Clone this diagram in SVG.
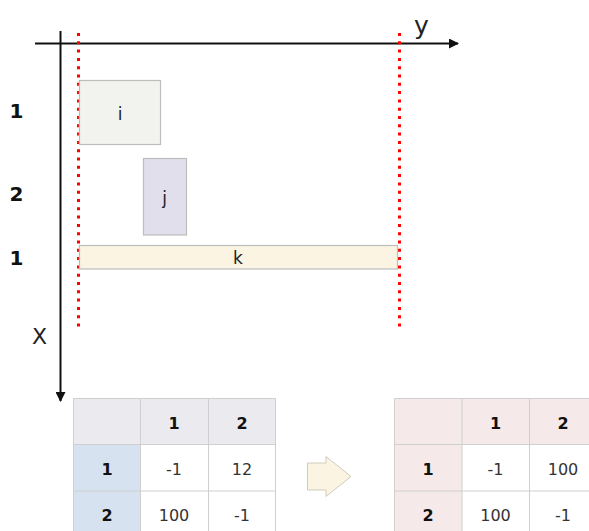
<svg xmlns="http://www.w3.org/2000/svg" width="589" height="531" viewBox="0 0 589 531">
  <style>
    .lbl { font-family: "DejaVu Sans", Verdana, sans-serif; fill: #222; }
    .axis { stroke: #111; stroke-width: 2; fill: none; }
    .guide { stroke: #ff0000; stroke-width: 3; stroke-dasharray: 3 5.3; fill: none; }
    .box { stroke: #bdbdbd; stroke-width: 1.2; }
    .cell { stroke: #cfcfcf; stroke-width: 1; }
    .num { font-family: "DejaVu Sans", Verdana, sans-serif; font-size: 16px; fill: #333; text-anchor: middle; }
    .bold { font-weight: bold; fill: #111; }
  </style>
  <defs>
    <marker id="arrow" viewBox="0 0 10 10" refX="9" refY="5" markerWidth="7" markerHeight="5" markerUnits="strokeWidth" orient="auto">
      <path d="M0,0 L10,5 L0,10 z" fill="#111"/>
    </marker>
  </defs>
  <rect width="589" height="531" fill="#fff"/>

  <!-- axes -->
  <g id="axes">
    <line class="axis" x1="35" y1="43.5" x2="458" y2="43.5" marker-end="url(#arrow)"/>
    <line class="axis" x1="60.5" y1="31" x2="60.5" y2="401" marker-end="url(#arrow)"/>
    <text class="lbl" x="414" y="34" font-size="25">y</text>
    <text class="lbl" x="32" y="344" font-size="22">X</text>
  </g>

  <!-- row labels -->
  <g id="row-labels" class="lbl bold" font-size="20" text-anchor="middle">
    <text x="16.5" y="118">1</text>
    <text x="16.5" y="201">2</text>
    <text x="16.5" y="265">1</text>
  </g>

  <!-- boundary guides -->
  <g id="guides">
    <line class="guide" x1="78.5" y1="33" x2="78.5" y2="328"/>
    <line class="guide" x1="399.5" y1="33" x2="399.5" y2="328"/>
  </g>

  <g id="node-i">
    <rect class="box" x="79.5" y="80.5" width="81" height="64" fill="#f2f2ee"/>
    <text class="lbl" x="120" y="120" font-size="17" text-anchor="middle" fill="#333">i</text>
  </g>
  <g id="node-j">
    <rect class="box" x="143.5" y="158.5" width="43" height="76.5" fill="#e2dfec"/>
    <text class="lbl" x="164.5" y="204" font-size="17" text-anchor="middle" fill="#333">j</text>
  </g>
  <g id="node-k">
    <rect class="box" x="79.5" y="245.5" width="318" height="23.5" fill="#fbf4e3"/>
    <text class="lbl" x="238" y="264" font-size="17" text-anchor="middle" fill="#333">k</text>
  </g>

  <!-- first table -->
  <g id="table-before">
    <rect x="73.5" y="398.5" width="202" height="46" fill="#eaeaef"/>
    <rect x="73.5" y="444.5" width="67" height="90" fill="#d6e2ef"/>
    <g class="cell">
      <line x1="73.5" y1="398.5" x2="275.5" y2="398.5"/>
      <line x1="73.5" y1="444.5" x2="275.5" y2="444.5"/>
      <line x1="73.5" y1="491" x2="275.5" y2="491"/>
      <line x1="73.5" y1="398.5" x2="73.5" y2="531"/>
      <line x1="140.5" y1="398.5" x2="140.5" y2="531"/>
      <line x1="208.5" y1="398.5" x2="208.5" y2="531"/>
      <line x1="275.5" y1="398.5" x2="275.5" y2="531"/>
    </g>
    <text class="num bold" x="174" y="429">1</text>
    <text class="num bold" x="242" y="429">2</text>
    <text class="num bold" x="107" y="475">1</text>
    <text class="num bold" x="107" y="521">2</text>
    <text class="num" x="174" y="475">-1</text>
    <text class="num" x="242" y="475">12</text>
    <text class="num" x="174" y="521">100</text>
    <text class="num" x="242" y="521">-1</text>
  </g>

  <!-- transition arrow -->
  <g id="transition">
    <path d="M307.5,463 L326,463 L326,456.5 L351,476.5 L326,496.5 L326,490 L307.5,490 Z" fill="#fbf4e3" stroke="#cfcbbd" stroke-width="1"/>
  </g>

  <!-- second table -->
  <g id="table-after">
    <rect x="394.5" y="398.5" width="200" height="46" fill="#f6e9ea"/>
    <rect x="394.5" y="444.5" width="67.5" height="90" fill="#f6e9ea"/>
    <g class="cell">
      <line x1="394.5" y1="398.5" x2="589" y2="398.5"/>
      <line x1="394.5" y1="444.5" x2="589" y2="444.5"/>
      <line x1="394.5" y1="491" x2="589" y2="491"/>
      <line x1="394.5" y1="398.5" x2="394.5" y2="531"/>
      <line x1="462" y1="398.5" x2="462" y2="531"/>
      <line x1="529.5" y1="398.5" x2="529.5" y2="531"/>
    </g>
    <text class="num bold" x="495.5" y="429">1</text>
    <text class="num bold" x="563" y="429">2</text>
    <text class="num bold" x="428" y="475">1</text>
    <text class="num bold" x="428" y="521">2</text>
    <text class="num" x="495.5" y="475">-1</text>
    <text class="num" x="563" y="475">100</text>
    <text class="num" x="495.5" y="521">100</text>
    <text class="num" x="563" y="521">-1</text>
  </g>
</svg>
